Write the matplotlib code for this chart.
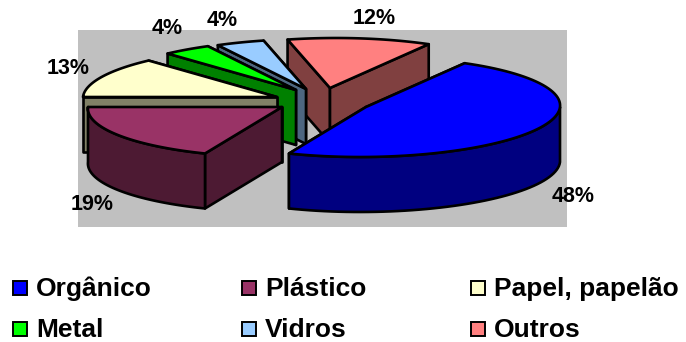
import numpy as np
import matplotlib
matplotlib.use('Agg')
import matplotlib.pyplot as plt
from matplotlib.patches import Polygon, Rectangle

categories = ['Orgânico', 'Plástico', 'Papel, papelão', 'Metal', 'Vidros', 'Outros']
values = [48, 19, 13, 4, 4, 12]
colors = ['#0000FF', '#993366', '#FFFFCC', '#00FF00', '#99CCFF', '#FF8080']

# centre of each exploded slice, in pixels
centers = [(366, 107), (282, 107), (277, 97), (296, 90), (306, 89), (330, 88)]
label_pos = [(573, 196), (92, 204), (68, 68), (167, 28), (222, 20), (374, 18)]
legend_x = [12, 241, 470]
legend_y = [288, 329]

RX, RY = 194, 50
SKEW = 6
DEPTH = 55
START = 118.8  # the first slice begins here, measured clockwise from the left

plt.rcParams['font.family'] = ['Liberation Sans', 'DejaVu Sans']


def ring(cx, cy, deg):
    a = np.radians(deg)
    return cx - RX * np.cos(a) + SKEW * np.sin(a), cy - RY * np.sin(a)


def dark(hex_color):
    rgb = matplotlib.colors.to_rgb(hex_color)
    return tuple(c * 0.5 for c in rgb)


def draw_slice(ax, center, a0, a1, color):
    cx, cy = center
    arc = np.linspace(a0, a1, 80)
    xs, ys = ring(cx, cy, arc)
    wall = dark(color)
    style = dict(edgecolor='black', linewidth=1.9, joinstyle='round')

    # radial walls, further one first
    radial = []
    for x, y in [(xs[0], ys[0]), (xs[-1], ys[-1])]:
        radial.append(np.array([(cx, cy), (x, y), (x, y + DEPTH), (cx, cy + DEPTH)]))
    for w in sorted(radial, key=lambda p: p[:, 1].mean()):
        ax.add_patch(Polygon(w, closed=True, facecolor=wall, **style))

    # outer wall only exists on the front half of the rim
    front = np.sin(np.radians(arc)) <= 0
    if front.sum() > 1:
        fx, fy = xs[front], ys[front]
        outer = np.column_stack([np.r_[fx, fx[::-1]], np.r_[fy, fy[::-1] + DEPTH]])
        ax.add_patch(Polygon(outer, closed=True, facecolor=wall, **style))

    top = np.column_stack([np.r_[cx, xs], np.r_[cy, ys]])
    ax.add_patch(Polygon(top, closed=True, facecolor=color, **style))


fig = plt.figure(figsize=(6.86, 3.42), dpi=100)
ax = fig.add_axes([0, 0, 1, 1])
ax.set_xlim(0, 686)
ax.set_ylim(342, 0)
ax.axis('off')

# plot area
ax.add_patch(Rectangle((78, 30), 489, 197, facecolor='#C0C0C0', edgecolor='none'))

# slice angles follow the values, clockwise on screen
angles = np.cumsum([0] + [v * 3.6 for v in values])
slices = []
for i in range(len(values)):
    slices.append((centers[i], START + angles[i], START + angles[i + 1], colors[i]))

# paint from the back of the pie to the front
for s in sorted(slices, key=lambda s: s[0][1]):
    draw_slice(ax, *s)

for v, (x, y) in zip(values, label_pos):
    ax.text(x, y, f'{v}%', fontsize=15.5, fontweight='bold', ha='center', va='center')

for i, name in enumerate(categories):
    x = legend_x[i % 3]
    y = legend_y[i // 3]
    ax.add_patch(Rectangle((x + 1, y - 7), 14, 14, facecolor=colors[i], edgecolor='black', linewidth=1.4))
    ax.text(x + 24, y + 8, name, fontsize=19, fontweight='bold', ha='left', va='baseline')

fig.savefig('out.png', dpi=100)
